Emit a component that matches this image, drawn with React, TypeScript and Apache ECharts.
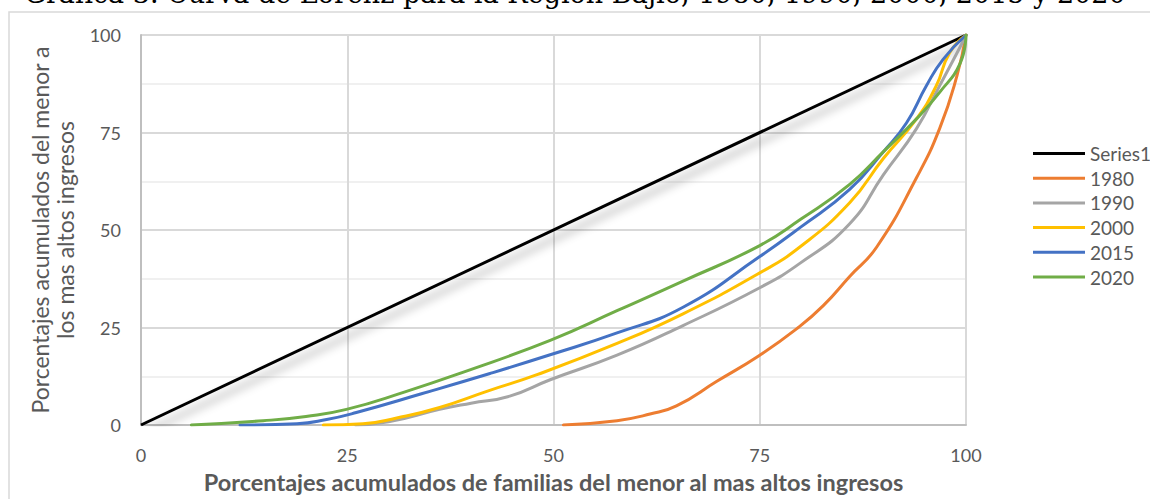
import React, { useEffect, useRef } from "react";
import * as echarts from "echarts";

const TITLE = "Gráfica 3. Curva de Lorenz para la Región Bajío, 1980, 1990, 2000, 2015 y 2020";
const X_NAME = "Porcentajes acumulados de familias del menor al mas altos ingresos";
const Y_NAME = "Porcentajes acumulados del menor a\nlos mas altos ingresos";

const seriesNames = ["Series1", "1980", "1990", "2000", "2015", "2020"];
const seriesColors = ["#000000", "#ED7D31", "#A5A5A5", "#FFC000", "#4472C4", "#70AD47"];

const series1: number[][] = [[0, 0], [100, 100]];
const s1980: number[][] = [
  [51.2, 0], [57.7, 1.1], [61.7, 2.8], [64.9, 4.9], [69.8, 11.2], [75, 17.9], [79.5, 24.7],
  [82.7, 30.6], [85.9, 38.1], [89.2, 45.7], [94, 63.4], [96.8, 76], [98.9, 89.5], [100, 100],
];
const s1990: number[][] = [
  [26, 0], [30, 0.8], [36.2, 4], [40, 5.6], [44.7, 7.4], [49.6, 11.6], [57.7, 17.9], [65.7, 25.5],
  [75, 35.2], [79.9, 41.5], [85.9, 51.6], [90, 64.2], [94, 76], [96.8, 87], [99.3, 97], [100, 100],
];
const s2000: number[][] = [
  [22.1, 0], [26.9, 0.3], [31, 1.8], [36.2, 4.5], [42, 8.7], [48, 12.9], [57.7, 20.9], [65.7, 28.5],
  [75, 39], [79.9, 45.7], [85.9, 57], [90, 68.4], [94, 78.5], [96.4, 87], [98, 95.4], [100, 100],
];
const s2015: number[][] = [
  [12, 0], [18.9, 0.3], [22.5, 1.4], [26.1, 3.2], [34, 8], [42.3, 13.2], [49.6, 18], [57.7, 23.6],
  [65.7, 30.2], [75, 43.2], [80, 50.8], [85.9, 60.4], [90, 70.1], [92.8, 77.5], [95.2, 87], [97.2, 93.7], [100, 100],
];
const s2020: number[][] = [
  [6.1, 0], [14.8, 1.1], [20, 2.2], [24.9, 4], [32, 8.5], [39, 13.5], [49.6, 21.7], [57.7, 29.3],
  [65.7, 36.9], [75, 46], [80, 52.8], [85.9, 61.7], [90, 70.1], [94, 78.5], [96.8, 85.3], [99.3, 92.8], [100, 100],
];
const seriesData = [series1, s1980, s1990, s2000, s2015, s2020];

const FONT = "Lato, 'Open Sans', sans-serif";

export default function App() {
  const ref = useRef<HTMLDivElement>(null);
  useEffect(() => {
    if (!ref.current) return;
    const chart = echarts.init(ref.current, null, { renderer: "svg" });
    chart.setOption({
      animation: false,
      backgroundColor: "#ffffff",
      textStyle: { fontFamily: FONT },
      graphic: [
        {
          type: "rect",
          shape: { x: 9, y: 12, width: 1300, height: 700 },
          style: { fill: "none", stroke: "#d9d9d9", lineWidth: 1.5 },
          silent: true,
        },
        {
          type: "text",
          x: 575,
          y: 7,
          style: {
            text: TITLE,
            fontFamily: "'DejaVu Serif', serif",
            fontSize: 27,
            fill: "#000000",
            textAlign: "center",
            verticalAlign: "bottom",
          },
        },
      ],
      legend: {
        orient: "vertical",
        left: 1028,
        top: 139,
        icon: "rect",
        itemWidth: 52,
        itemHeight: 3,
        itemGap: 5.7,
        data: seriesNames,
        textStyle: { color: "#595959", fontSize: 19, fontFamily: FONT, lineHeight: 19 },
      },
      grid: { left: 141, right: 184, top: 35, bottom: 68, containLabel: false },
      xAxis: {
        type: "value",
        min: 0,
        max: 100,
        interval: 25,
        name: X_NAME,
        nameLocation: "middle",
        nameGap: 45,
        nameTextStyle: { color: "#595959", fontSize: 23.5, fontWeight: "bold", fontFamily: FONT },
        axisLine: { show: true, lineStyle: { color: "#bfbfbf", width: 2 } },
        axisTick: { show: false },
        axisLabel: { color: "#595959", fontSize: 18, margin: 21, fontFamily: FONT },
        splitLine: { show: true, lineStyle: { color: "#d9d9d9", width: 2 } },
      },
      yAxis: {
        type: "value",
        min: 0,
        max: 100,
        interval: 25,
        name: Y_NAME,
        nameLocation: "middle",
        nameGap: 64,
        nameTextStyle: { color: "#595959", fontSize: 23, fontFamily: FONT, lineHeight: 25 },
        axisLine: { show: true, lineStyle: { color: "#bfbfbf", width: 2 } },
        axisTick: { show: false },
        axisLabel: { color: "#595959", fontSize: 18, margin: 20, fontFamily: FONT },
        splitLine: { show: true, lineStyle: { color: "#d9d9d9", width: 2 } },
        minorTick: { show: false, splitNumber: 2 },
        minorSplitLine: { show: true, lineStyle: { color: "#f0f0f0", width: 2 } },
      },
      series: seriesNames.map((name, i) => ({
        name,
        type: "line",
        data: seriesData[i],
        smooth: i === 0 ? false : 0.5,
        symbol: "none",
        showSymbol: false,
        color: seriesColors[i],
        lineStyle:
          i === 0
            ? {
                color: seriesColors[i],
                width: 3,
                shadowColor: "rgba(0,0,0,0.4)",
                shadowBlur: 10,
                shadowOffsetX: 7,
                shadowOffsetY: 6,
              }
            : { color: seriesColors[i], width: 3, cap: "round" },
        z: 2 + i,
      })),
    });
    return () => chart.dispose();
  }, []);
  return (
    <div
      ref={ref}
      style={{ position: "fixed", left: 0, top: 0, width: 1150, height: 499 }}
    />
  );
}
